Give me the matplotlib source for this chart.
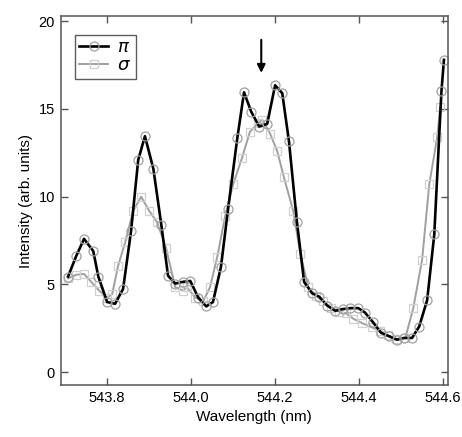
import numpy as np
import matplotlib
matplotlib.use('Agg')
import matplotlib.pyplot as plt

plt.rcParams['font.family'] = ['Liberation Sans', 'DejaVu Sans']

# pi polarisation (black, circles)
pi_x = [543.707, 543.726, 543.745, 543.767, 543.779, 543.800, 543.819, 543.838,
        543.857, 543.874, 543.890, 543.910, 543.929, 543.945, 543.962, 543.981,
        543.998, 544.017, 544.036, 544.052, 544.071, 544.088, 544.110, 544.126,
        544.143, 544.162, 544.181, 544.200, 544.217, 544.233, 544.252, 544.269,
        544.288, 544.305, 544.324, 544.343, 544.362, 544.379, 544.398, 544.414,
        544.433, 544.452, 544.471, 544.490, 544.507, 544.526, 544.543, 544.562,
        544.579, 544.596, 544.602]
pi_y = [5.45, 6.6, 7.6, 6.9, 5.45, 4.0, 3.9, 4.75,
        8.05, 12.1, 13.45, 11.6, 8.4, 5.5, 5.05, 5.15,
        5.2, 4.25, 3.75, 4.0, 6.0, 9.3, 13.35, 15.95,
        14.85, 14.0, 14.15, 16.35, 15.9, 13.15, 8.55, 5.15,
        4.5, 4.3, 3.8, 3.5, 3.6, 3.65, 3.65, 3.4,
        2.85, 2.25, 2.05, 1.85, 1.95, 1.95, 2.6, 4.1,
        7.85, 16.0, 17.8]

# sigma polarisation (gray, squares)
sig_x = [543.707, 543.726, 543.745, 543.762, 543.781, 543.800, 543.812, 543.826,
         543.843, 543.862, 543.881, 543.900, 543.919, 543.940, 543.962, 543.981,
         543.990, 544.010, 544.029, 544.045, 544.062, 544.081, 544.100, 544.121,
         544.140, 544.160, 544.169, 544.188, 544.205, 544.221, 544.243, 544.260,
         544.279, 544.298, 544.314, 544.333, 544.352, 544.369, 544.386, 544.407,
         544.431, 544.450, 544.469, 544.488, 544.510, 544.529, 544.550, 544.567,
         544.586, 544.593]
sig_y = [5.35, 5.55, 5.6, 5.15, 4.65, 4.25, 4.45, 6.05,
         7.4, 9.2, 10.0, 9.2, 8.55, 7.1, 4.85, 4.65,
         4.85, 4.25, 4.05, 4.85, 6.55, 8.9, 10.7, 12.2,
         13.7, 14.2, 14.4, 13.6, 12.6, 11.1, 9.2, 6.75,
         4.85, 4.35, 4.05, 3.65, 3.45, 3.35, 3.05, 2.8,
         2.55, 2.35, 2.1, 1.9, 1.95, 3.65, 6.4, 10.7,
         13.4, 15.1]

fig = plt.figure(figsize=(4.62, 4.37), dpi=100)
ax = fig.add_axes([0.131, 0.119, 0.839, 0.844])

ax.plot(sig_x, sig_y, color='#a0a0a0', lw=1.4, marker='s', ms=5.5,
        mfc='none', mec='#d0d0d0', mew=0.9, label=r'$\sigma$')
ax.plot(pi_x, pi_y, color='black', lw=1.9, marker='o', ms=6.5,
        mfc='none', mec='#a0a0a0', mew=0.9, label=r'$\pi$')

# arrow marking the line position
ax.annotate('', xy=(544.167, 16.9), xytext=(544.167, 19.1),
            arrowprops=dict(arrowstyle='-|>', color='black', lw=1.5,
                            mutation_scale=12))

ax.set_xlim(543.689, 544.612)
ax.set_ylim(-0.73, 20.29)
ax.set_xticks([543.8, 544.0, 544.2, 544.4, 544.6])
ax.set_yticks([0, 5, 10, 15, 20])
ax.tick_params(direction='in', length=5, width=1, top=True, right=True,
               labelsize=10.5, color='#555555', pad=4)
for s in ax.spines.values():
    s.set_color('#555555')
    s.set_linewidth(1.1)

ax.set_xlabel('Wavelength (nm)', fontsize=11)
ax.set_ylabel('Intensity (arb. units)', fontsize=11)

h, l = ax.get_legend_handles_labels()
leg = ax.legend(h[::-1], l[::-1], loc='upper left', fontsize=13,
                fancybox=False, edgecolor='#333333', handlelength=1.6,
                borderpad=0.25, labelspacing=0.05, handletextpad=0.5,
                borderaxespad=0.0, bbox_to_anchor=(0.037, 0.95))
leg.get_frame().set_linewidth(1.0)

fig.savefig('out.png', dpi=100)
